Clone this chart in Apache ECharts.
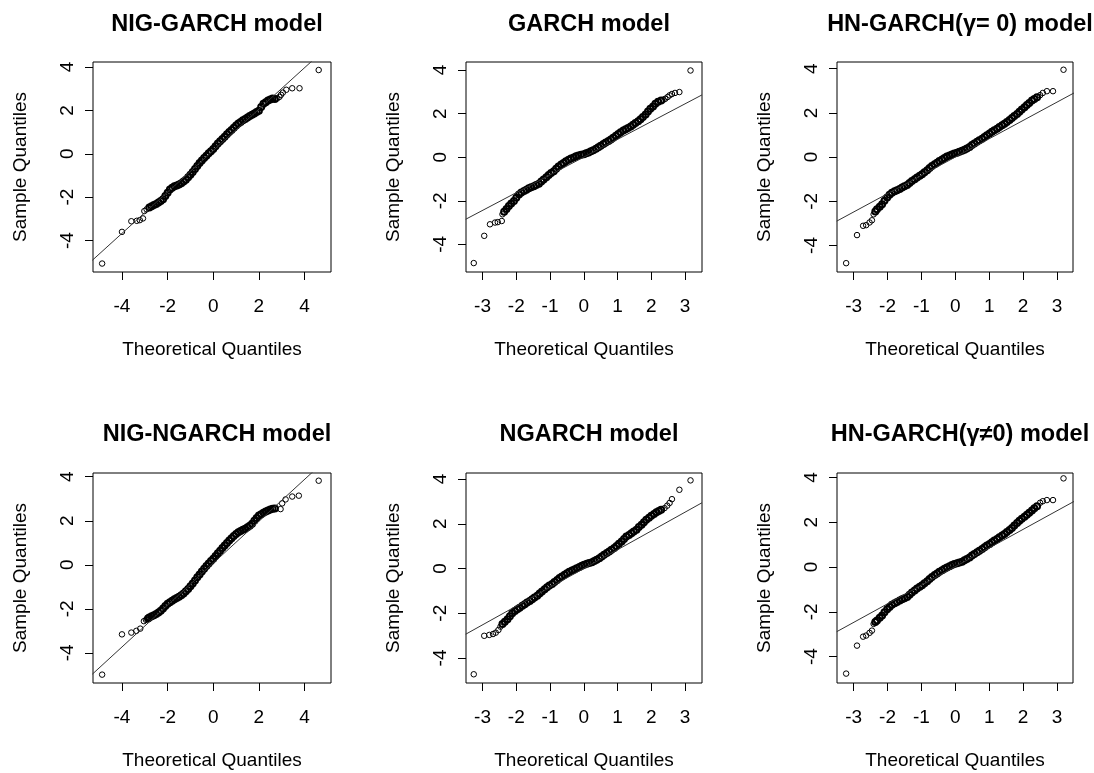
<!DOCTYPE html>
<html><head><meta charset="utf-8">
<script src="https://cdn.jsdelivr.net/npm/echarts@6/dist/echarts.min.js"></script>
<style>html,body{margin:0;padding:0;background:#fff}#c{width:1094px;height:773px}</style>
</head><body><div id="c"></div>
<script>
// ---------- data ----------
const titles = ['NIG-GARCH model', 'GARCH model', 'HN-GARCH(\u03b3= 0) model',
                'NIG-NGARCH model', 'NGARCH model', 'HN-GARCH(\u03b3\u22600) model'];
const xName = 'Theoretical Quantiles';
const yName = 'Sample Quantiles';
const xTicksWide = [-4, -2, 0, 2, 4];
const xTicksNarrow = [-3, -2, -1, 0, 1, 2, 3];
const yTicks = [-4, -2, 0, 2, 4];

const xRange1 = [-5.27, 5.16], yRange1 = [-5.45, 4.23];
const xRange2 = [-3.49, 3.5],  yRange2 = [-5.27, 4.37];
const xRange3 = [-3.49, 3.47], yRange3 = [-5.2, 4.3];
const xRange4 = [-5.27, 5.16], yRange4 = [-5.37, 4.17];
const xRange5 = [-3.49, 3.5],  yRange5 = [-5.12, 4.27];
const xRange6 = [-3.49, 3.47], yRange6 = [-5.18, 4.2];

// reference lines (qqline) endpoints
const line1 = [[-5.3, -4.91], [5.2, 5.11]];
const line2 = [[-3.5, -2.85], [3.5, 2.86]];
const line3 = [[-3.5, -2.9], [3.5, 2.9]];
const line4 = [[-5.3, -4.97], [5.2, 5.02]];
const line5 = [[-3.5, -2.94], [3.5, 2.94]];
const line6 = [[-3.5, -2.89], [3.5, 2.93]];

// sample points [theoretical, sample]: isolated tail points and the dense central band
const tails1 = [[-4.87,-5.06],[-4.0,-3.6],[-3.59,-3.11],[-3.35,-3.09],[-3.22,-3.06],[-3.08,-2.98],[-3.02,-2.64],[-2.92,-2.56],
[2.8,2.55],[2.9,2.62],[2.97,2.72],[3.05,2.82],[3.2,2.95],[3.46,3.02],[3.78,3.02],[4.62,3.86]];
const band1 = [[-2.8,-2.48],[-2.7,-2.42],[-2.6,-2.36],[-2.5,-2.31],[-2.4,-2.25],[-2.3,-2.18],[-2.2,-2.1],[-2.1,-1.95],[-2.0,-1.8],[-1.9,-1.65],
[-1.8,-1.57],[-1.7,-1.5],[-1.6,-1.46],[-1.5,-1.42],[-1.4,-1.36],[-1.3,-1.28],[-1.2,-1.2],[-1.1,-1.08],[-1.0,-0.97],[-0.9,-0.84],
[-0.8,-0.7],[-0.7,-0.56],[-0.6,-0.43],[-0.5,-0.31],[-0.4,-0.2],[-0.3,-0.09],[-0.2,0.02],[-0.1,0.12],[0,0.22],[0.1,0.35],[0.2,0.47],
[0.3,0.58],[0.4,0.68],[0.5,0.79],[0.6,0.9],[0.7,1.0],[0.8,1.1],[0.9,1.2],[1.0,1.3],[1.1,1.39],[1.2,1.47],[1.3,1.54],[1.4,1.6],
[1.5,1.67],[1.6,1.74],[1.7,1.8],[1.8,1.86],[1.9,1.92],[2.0,1.98],[2.1,2.15],[2.2,2.3],[2.3,2.38],[2.4,2.45],[2.5,2.5],[2.6,2.55],
[2.7,2.52]];

const tails2 = [[-3.26,-4.86],[-2.95,-3.61],[-2.78,-3.08],[-2.63,-3.0],[-2.55,-2.98],[-2.43,-2.93],[-2.41,-2.62],
[2.36,2.64],[2.41,2.68],[2.48,2.76],[2.54,2.84],[2.61,2.9],[2.7,2.95],[2.83,2.99],[3.16,3.98]];
const band2 = [[-2.36,-2.5],[-2.29,-2.38],[-2.22,-2.24],[-2.15,-2.13],[-2.07,-2.01],[-2.0,-1.86],[-1.92,-1.71],[-1.85,-1.62],[-1.77,-1.55],
[-1.7,-1.49],[-1.63,-1.43],[-1.56,-1.38],[-1.48,-1.33],[-1.41,-1.28],[-1.33,-1.22],[-1.26,-1.12],[-1.19,-1.02],[-1.11,-0.92],
[-1.04,-0.82],[-0.97,-0.73],[-0.89,-0.64],[-0.82,-0.53],[-0.75,-0.43],[-0.67,-0.34],[-0.6,-0.27],[-0.53,-0.19],[-0.45,-0.12],
[-0.38,-0.06],[-0.3,-0.01],[-0.23,0.04],[-0.16,0.08],[-0.08,0.11],[0,0.14],[0.07,0.18],[0.14,0.22],[0.21,0.27],[0.28,0.32],
[0.36,0.39],[0.43,0.46],[0.5,0.53],[0.58,0.61],[0.65,0.67],[0.73,0.74],[0.8,0.81],[0.87,0.89],[0.95,0.98],[1.02,1.07],
[1.09,1.15],[1.17,1.22],[1.24,1.28],[1.31,1.34],[1.39,1.41],[1.46,1.49],[1.53,1.57],[1.61,1.65],[1.68,1.74],[1.75,1.84],
[1.83,1.96],[1.9,2.1],[1.97,2.22],[2.05,2.33],[2.12,2.45],[2.2,2.55],[2.29,2.6]];

const tails3 = [[-3.22,-4.8],[-2.9,-3.53],[-2.72,-3.11],[-2.63,-3.08],[-2.53,-2.96],[-2.46,-2.86],[-2.41,-2.59],
[2.5,2.8],[2.58,2.9],[2.7,2.98],[2.88,2.98],[3.19,3.95]];
const band3 = [[-2.36,-2.46],[-2.31,-2.36],[-2.23,-2.25],[-2.16,-2.14],[-2.09,-1.98],[-2.01,-1.83],[-1.94,-1.71],[-1.87,-1.62],[-1.79,-1.55],
[-1.72,-1.5],[-1.64,-1.44],[-1.57,-1.38],[-1.5,-1.32],[-1.42,-1.26],[-1.35,-1.17],[-1.28,-1.08],[-1.2,-1.0],[-1.13,-0.93],
[-1.05,-0.85],[-0.98,-0.78],[-0.91,-0.69],[-0.83,-0.6],[-0.76,-0.5],[-0.69,-0.41],[-0.61,-0.33],[-0.54,-0.26],[-0.47,-0.18],
[-0.39,-0.11],[-0.32,-0.04],[-0.25,0.02],[-0.17,0.07],[-0.1,0.12],[-0.03,0.16],[0.05,0.2],[0.12,0.24],[0.2,0.28],[0.27,0.33],
[0.34,0.39],[0.42,0.46],[0.49,0.54],[0.56,0.61],[0.64,0.69],[0.71,0.76],[0.79,0.83],[0.86,0.91],[0.93,0.99],[1.01,1.06],
[1.08,1.14],[1.15,1.21],[1.23,1.28],[1.3,1.36],[1.38,1.44],[1.45,1.51],[1.52,1.59],[1.6,1.68],[1.67,1.77],[1.74,1.86],
[1.82,1.95],[1.89,2.05],[1.96,2.15],[2.04,2.25],[2.11,2.35],[2.18,2.45],[2.26,2.56],[2.33,2.63],[2.41,2.71]];

const tails4 = [[-4.87,-4.99],[-4.0,-3.16],[-3.59,-3.08],[-3.37,-3.0],[-3.2,-2.9],[-3.04,-2.56],[-2.95,-2.5],
[2.95,2.53],[3.02,2.79],[3.17,2.97],[3.46,3.1],[3.75,3.14],[4.62,3.82]];
const band4 = [[-2.86,-2.44],[-2.8,-2.4],[-2.7,-2.34],[-2.6,-2.29],[-2.5,-2.23],[-2.4,-2.17],[-2.3,-2.09],[-2.2,-1.98],[-2.1,-1.87],[-2.0,-1.77],
[-1.9,-1.7],[-1.8,-1.63],[-1.7,-1.57],[-1.6,-1.51],[-1.5,-1.45],[-1.4,-1.38],[-1.3,-1.3],[-1.2,-1.2],[-1.1,-1.1],[-1.0,-0.98],
[-0.9,-0.85],[-0.8,-0.71],[-0.7,-0.57],[-0.6,-0.44],[-0.5,-0.31],[-0.4,-0.18],[-0.3,-0.06],[-0.2,0.06],[-0.1,0.17],[0,0.28],
[0.1,0.4],[0.2,0.52],[0.3,0.64],[0.4,0.76],[0.5,0.88],[0.6,0.99],[0.7,1.1],[0.8,1.21],[0.9,1.31],[1.0,1.4],[1.1,1.48],
[1.2,1.54],[1.3,1.59],[1.4,1.64],[1.5,1.7],[1.6,1.77],[1.7,1.86],[1.8,2.0],[1.9,2.13],[2.0,2.24],[2.1,2.3],[2.2,2.36],
[2.3,2.42],[2.4,2.47],[2.5,2.51],[2.6,2.55],[2.7,2.56]];

const tails5 = [[-3.26,-4.73],[-2.95,-3.01],[-2.8,-2.97],[-2.69,-2.93],[-2.61,-2.87],[-2.53,-2.75],[-2.47,-2.6],
[2.39,2.7],[2.47,2.81],[2.54,2.93],[2.61,3.1],[2.83,3.52],[3.16,3.94]];
const band5 = [[-2.41,-2.48],[-2.34,-2.38],[-2.26,-2.27],[-2.19,-2.13],[-2.12,-2.0],[-2.04,-1.9],[-1.97,-1.82],[-1.9,-1.75],[-1.82,-1.67],
[-1.75,-1.6],[-1.68,-1.52],[-1.6,-1.45],[-1.53,-1.37],[-1.46,-1.3],[-1.38,-1.22],[-1.31,-1.12],[-1.24,-1.03],[-1.16,-0.93],
[-1.09,-0.84],[-1.02,-0.76],[-0.94,-0.69],[-0.87,-0.6],[-0.79,-0.51],[-0.72,-0.43],[-0.65,-0.36],[-0.57,-0.28],[-0.5,-0.21],
[-0.43,-0.15],[-0.35,-0.09],[-0.28,-0.04],[-0.21,0.01],[-0.13,0.07],[-0.06,0.12],[0.01,0.17],[0.09,0.21],[0.16,0.25],[0.24,0.28],
[0.31,0.33],[0.38,0.39],[0.46,0.46],[0.53,0.54],[0.6,0.61],[0.68,0.69],[0.75,0.76],[0.82,0.84],[0.9,0.92],[0.97,1.01],
[1.04,1.11],[1.12,1.21],[1.19,1.32],[1.26,1.43],[1.34,1.5],[1.41,1.58],[1.48,1.65],[1.56,1.73],[1.63,1.85],[1.71,1.96],
[1.78,2.07],[1.85,2.18],[1.93,2.27],[2.0,2.36],[2.08,2.44],[2.15,2.51],[2.22,2.57],[2.29,2.63]];

const tails6 = [[-3.22,-4.76],[-2.9,-3.51],[-2.72,-3.11],[-2.63,-3.06],[-2.53,-2.94],[-2.46,-2.84],[-2.41,-2.54],
[2.5,2.87],[2.58,2.94],[2.7,2.99],[2.88,2.99],[3.19,3.96]];
const band6 = [[-2.36,-2.45],[-2.31,-2.39],[-2.23,-2.27],[-2.16,-2.16],[-2.09,-2.02],[-2.01,-1.89],[-1.94,-1.78],[-1.87,-1.68],[-1.79,-1.62],
[-1.72,-1.56],[-1.64,-1.5],[-1.57,-1.44],[-1.5,-1.39],[-1.42,-1.34],[-1.35,-1.24],[-1.28,-1.14],[-1.2,-1.05],[-1.13,-0.96],
[-1.05,-0.88],[-0.98,-0.81],[-0.91,-0.72],[-0.83,-0.63],[-0.76,-0.53],[-0.69,-0.44],[-0.61,-0.36],[-0.54,-0.29],[-0.47,-0.21],
[-0.39,-0.14],[-0.32,-0.08],[-0.25,-0.02],[-0.17,0.04],[-0.1,0.09],[-0.03,0.13],[0.05,0.17],[0.12,0.2],[0.2,0.24],[0.27,0.3],
[0.34,0.36],[0.42,0.43],[0.49,0.51],[0.56,0.58],[0.64,0.66],[0.71,0.73],[0.79,0.8],[0.86,0.88],[0.93,0.96],[1.01,1.03],
[1.08,1.11],[1.15,1.18],[1.23,1.25],[1.3,1.33],[1.38,1.41],[1.45,1.48],[1.52,1.56],[1.6,1.65],[1.67,1.74],[1.74,1.85],
[1.82,1.97],[1.89,2.07],[1.96,2.16],[2.04,2.25],[2.11,2.34],[2.18,2.43],[2.26,2.52],[2.33,2.62],[2.41,2.72]];

// ---------- layout ----------
const panels = [
  {tails: tails1, band: band1, line: line1, xr: xRange1, yr: yRange1, xt: xTicksWide},
  {tails: tails2, band: band2, line: line2, xr: xRange2, yr: yRange2, xt: xTicksNarrow},
  {tails: tails3, band: band3, line: line3, xr: xRange3, yr: yRange3, xt: xTicksNarrow},
  {tails: tails4, band: band4, line: line4, xr: xRange4, yr: yRange4, xt: xTicksWide},
  {tails: tails5, band: band5, line: line5, xr: xRange5, yr: yRange5, xt: xTicksNarrow},
  {tails: tails6, band: band6, line: line6, xr: xRange6, yr: yRange6, xt: xTicksNarrow}
];
const boxes = [
  {left: 93, top: 62, width: 238, height: 210},
  {left: 466, top: 62, width: 236, height: 210},
  {left: 837, top: 62, width: 236, height: 210},
  {left: 93, top: 473, width: 238, height: 210},
  {left: 466, top: 473, width: 236, height: 210},
  {left: 837, top: 473, width: 236, height: 210}
];
const titleY = [8, 8, 8, 418, 418, 418];

const FONT = 'Liberation Sans, Arial, sans-serif';
const txt = {color: '#000', fontFamily: FONT, fontSize: 19};

const option = {
  animation: false,
  backgroundColor: '#fff',
  title: titles.map((t, i) => ({
    text: t,
    left: boxes[i].left + boxes[i].width / 2,
    top: titleY[i],
    textAlign: 'center',
    textStyle: {color: '#000', fontFamily: FONT, fontWeight: 'bold', fontSize: 23.5}
  })),
  grid: boxes.map(b => ({left: b.left, top: b.top, width: b.width, height: b.height,
    show: true, borderColor: '#000', borderWidth: 1, backgroundColor: 'transparent', containLabel: false})),
  xAxis: panels.map((p, i) => ({
    gridIndex: i, type: 'value', min: p.xr[0], max: p.xr[1],
    axisLine: {show: false, onZero: false},
    axisTick: {show: true, inside: false, length: 8, customValues: p.xt, lineStyle: {color: '#000', width: 1}},
    axisLabel: {customValues: p.xt, margin: 25, ...txt},
    splitLine: {show: false},
    name: xName, nameLocation: 'middle', nameGap: 68, nameTextStyle: txt
  })),
  yAxis: panels.map((p, i) => ({
    gridIndex: i, type: 'value', min: p.yr[0], max: p.yr[1],
    axisLine: {show: false, onZero: false},
    axisTick: {show: true, inside: false, length: 8, customValues: yTicks, lineStyle: {color: '#000', width: 1}},
    axisLabel: {customValues: yTicks, margin: 16, rotate: 90, ...txt},
    splitLine: {show: false},
    name: yName, nameLocation: 'middle', nameGap: 63, nameRotate: 90, nameTextStyle: txt
  })),
  series: panels.flatMap((p, i) => [
    {type: 'line', xAxisIndex: i, yAxisIndex: i, data: p.line, showSymbol: false, symbol: 'none',
     clip: true, silent: true, lineStyle: {color: '#333', width: 1}},
    {type: 'scatter', xAxisIndex: i, yAxisIndex: i, data: p.band, symbol: 'circle', symbolSize: 6,
     silent: true, itemStyle: {color: 'transparent', borderColor: '#000', borderWidth: 2, opacity: 1}},
    {type: 'scatter', xAxisIndex: i, yAxisIndex: i, data: p.tails, symbol: 'circle', symbolSize: 5.5,
     silent: true, itemStyle: {color: 'transparent', borderColor: '#000', borderWidth: 1, opacity: 1}}
  ])
};
const chart = echarts.init(document.getElementById('c'), null, {renderer: 'canvas'});
chart.setOption(option);
</script></body></html>
